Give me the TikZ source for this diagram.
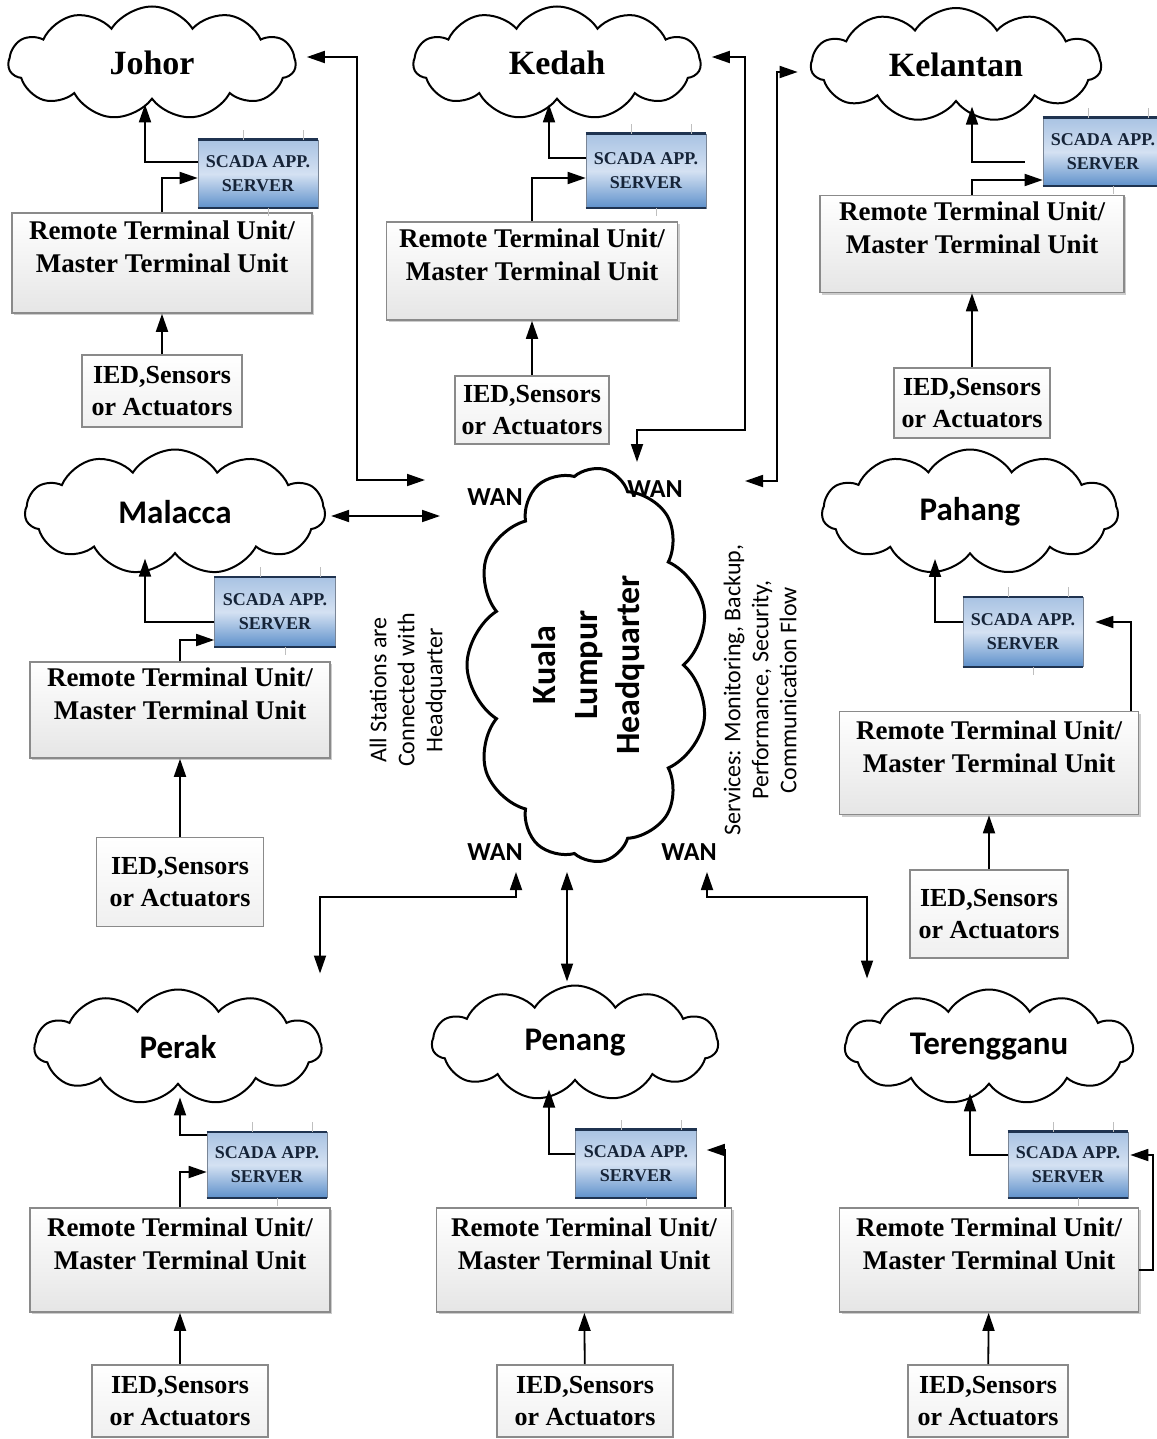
\documentclass[tikz,border=0pt]{standalone}
\usepackage{fontspec}
\setmainfont{Liberation Serif}
\setsansfont{Carlito}
\usetikzlibrary{shapes.symbols,arrows.meta,shadows}

\definecolor{srvtop}{HTML}{A9C3E3}
\definecolor{srvmid}{HTML}{D4E1F2}
\definecolor{srvbot}{HTML}{5F91CB}
\definecolor{srvband}{HTML}{1F3350}
\definecolor{boxline}{HTML}{8A8A8A}

\begin{document}
\begin{tikzpicture}[x=1pt,y=-1pt,
    station/.style={cloud, cloud puffs=11, cloud puff arc=115, cloud ignores aspect, draw=black, line width=2pt, minimum width=287pt, minimum height=113pt, inner sep=0pt},
    stationbf/.style={station, font=\bfseries\fontsize{34}{40}\selectfont},
    stationsf/.style={station, font=\sffamily\bfseries\fontsize{33}{40}\selectfont},
    server/.style={rectangle, draw=srvband!60, line width=0.6pt, top color=srvtop, bottom color=srvbot, middle color=srvmid, minimum width=120pt, minimum height=68pt, align=center, inner sep=0pt, text=srvband!70!black, font=\bfseries\fontsize{18}{24}\selectfont},
    rtu/.style={rectangle, draw=boxline, line width=1.6pt, top color=white, bottom color=black!10, minimum width=300pt, minimum height=100pt, inner sep=0pt, align=center, font=\bfseries\fontsize{27}{33}\selectfont, drop shadow={shadow xshift=2pt, shadow yshift=-2pt, fill=black, opacity=0.2}},
    ied/.style={rectangle, draw=boxline, line width=1.6pt, top color=white, bottom color=black!6, minimum width=160pt, minimum height=72pt, inner sep=0pt, align=center, font=\bfseries\fontsize{26}{32}\selectfont},
    wan/.style={font=\sffamily\bfseries\fontsize{26}{30}\selectfont},
    note/.style={rotate=90, align=center, font=\sffamily\fontsize{24}{28}\selectfont},
    arr/.style={-{Triangle[length=18pt,width=12pt]}, line width=1.8pt},
    biarr/.style={{Triangle[length=18pt,width=12pt]}-{Triangle[length=18pt,width=12pt]}, line width=1.8pt}]
    \useasboundingbox (0,0) rectangle (1156,1439);

    \node[stationbf] (johor) at (152,63) {Johor};
    \node[stationbf] (kedah) at (557,63) {Kedah};
    \node[stationbf, minimum width=290pt, minimum height=114pt] (kelantan) at (956,65) {Kelantan};
    \node[stationsf, minimum width=300pt, minimum height=125pt] (malacca) at (175,512) {Malacca};
    \node[stationsf, minimum width=296pt, minimum height=125pt] (pahang) at (970,512) {Pahang};
    \node[stationsf, minimum height=115pt] (perak) at (178,1047) {Perak};
    \node[stationsf, minimum width=286pt, minimum height=115pt] (penang) at (575,1043) {Penang};
    \node[stationsf, minimum width=288pt, minimum height=115pt] (terengganu) at (989,1047) {Terengganu};

    \node[station, rotate=90, minimum width=395pt, minimum height=242pt, line width=3pt, align=center, font=\sffamily\bfseries\fontsize{34}{42}\selectfont] (hq) at (588,665) {Kuala\\Lumpur\\Headquarter};

    \node[server] (s1) at (258,174) {SCADA APP.\\SERVER};
    \node[server, minimum height=74pt] (s2) at (646,171) {SCADA APP.\\SERVER};
    \node[server] (s3) at (1103,152) {SCADA APP.\\SERVER};
    \node[server, minimum width=121pt, minimum height=69pt] (s4) at (275,612) {SCADA APP.\\SERVER};
    \node[server, minimum height=69pt] (s5) at (1023,632) {SCADA APP.\\SERVER};
    \node[server, minimum height=65pt] (s6) at (267,1165) {SCADA APP.\\SERVER};
    \node[server, minimum width=121pt] (s7) at (636,1164) {SCADA APP.\\SERVER};
    \node[server, minimum height=66pt] (s8) at (1068,1165) {SCADA APP.\\SERVER};

    \node[rtu] (r1) at (162,263) {Remote Terminal Unit/\\Master Terminal Unit\\\mbox{}};
    \node[rtu, minimum width=291pt, minimum height=98pt] (r2) at (532,271) {Remote Terminal Unit/\\Master Terminal Unit\\\mbox{}};
    \node[rtu, minimum width=304pt, minimum height=97pt] (r3) at (972,244) {Remote Terminal Unit/\\Master Terminal Unit\\\mbox{}};
    \node[rtu, minimum height=96pt] (r4) at (180,710) {Remote Terminal Unit/\\Master Terminal Unit\\\mbox{}};
    \node[rtu, minimum width=299pt, minimum height=103pt] (r5) at (989,763) {Remote Terminal Unit/\\Master Terminal Unit\\\mbox{}};
    \node[rtu, minimum height=104pt] (r6) at (180,1260) {Remote Terminal Unit/\\Master Terminal Unit\\\mbox{}};
    \node[rtu, minimum width=295pt, minimum height=104pt] (r7) at (584,1260) {Remote Terminal Unit/\\Master Terminal Unit\\\mbox{}};
    \node[rtu, minimum width=299pt, minimum height=104pt] (r8) at (989,1260) {Remote Terminal Unit/\\Master Terminal Unit\\\mbox{}};

    \node[ied] (i1) at (162,391) {IED,Sensors\\or Actuators};
    \node[ied, minimum width=154pt, minimum height=68pt] (i2) at (532,410) {IED,Sensors\\or Actuators};
    \node[ied, minimum width=156pt, minimum height=70pt] (i3) at (972,403) {IED,Sensors\\or Actuators};
    \node[ied, minimum width=167pt, minimum height=89pt] (i4) at (180,882) {IED,Sensors\\or Actuators};
    \node[ied, minimum width=158pt, minimum height=88pt] (i5) at (989,914) {IED,Sensors\\or Actuators};
    \node[ied, minimum width=176pt] (i6) at (180,1401) {IED,Sensors\\or Actuators};
    \node[ied, minimum width=176pt] (i7) at (585,1401) {IED,Sensors\\or Actuators};
    \node[ied] (i8) at (988,1401) {IED,Sensors\\or Actuators};

    \foreach \k in {1,...,8} {
        \draw[line width=2.5pt, srvband] (s\k.north west) -- (s\k.north east);
        \draw[line width=2pt, srvband] (s\k.south west) -- (s\k.south east);
        \draw[black!25, line width=0.8pt] ([xshift=-15pt]s\k.north) -- ++(0,-10);
        \draw[black!25, line width=0.8pt] ([xshift=45pt]s\k.north) -- ++(0,-10);
        \draw[black!25, line width=0.8pt] ([xshift=10pt]s\k.south) -- ++(0,8);
    }

    \node[wan] (w1) at (495,497) {WAN};
    \node[wan] (w2) at (655,489) {WAN};
    \node[wan] (w3) at (495,852) {WAN};
    \node[wan] (w4) at (689,852) {WAN};

    \node[note] (n1) at (408,690) {All Stations are\\Connected with\\Headquarter};
    \node[note] (n2) at (760,690) {Services: Monitoring, Backup,\\Performance, Security,\\Communication Flow};

    \coordinate (hqNW) at (425,480);
    \coordinate (hqW) at (440,516);
    \coordinate (hqN) at (637,462);
    \coordinate (hqNE) at (745,481);
    \coordinate (hqSW) at (516,872);
    \coordinate (hqS) at (567,872);
    \coordinate (hqSE) at (707,872);

    % inside each station
    \draw[arr] (i1) -- (r1);
    \draw[arr] (r1.north) |- ([yshift=-4pt]s1.west);
    \draw[arr] ([yshift=12pt]s1.west) -| ([xshift=-7pt,yshift=-4pt]johor.south);
    \draw[arr] (i2) -- (r2);
    \draw[arr] (r2.north) |- ([yshift=-7pt]s2.west);
    \draw[arr] ([yshift=13pt]s2.west) -| ([xshift=-8pt,yshift=-4pt]kedah.south);
    \draw[arr] (i3) -- (r3);
    \draw[arr] (r3.north) |- ([yshift=-28pt]s3.west);
    \draw[arr] ([xshift=-18pt,yshift=-10pt]s3.west) -| ([xshift=16pt,yshift=-4pt]kelantan.south);
    \draw[arr] (i4) -- (r4);
    \draw[arr] (r4.north) |- ([yshift=-28pt]s4.west);
    \draw[arr] ([yshift=-10pt]s4.west) -| ([xshift=-30pt,yshift=-4pt]malacca.south);
    \draw[arr] (i5) -- (r5);
    \draw[arr] ([xshift=142pt]r5.north) |- ([xshift=12pt,yshift=10pt]s5.east);
    \draw[arr] ([yshift=10pt]s5.west) -| ([xshift=-35pt,yshift=-4pt]pahang.south);
    \draw[arr] (i6) -- (r6);
    \draw[arr] (r6.north) |- ([yshift=-7pt]s6.west);
    \draw[arr] ([yshift=30pt]s6.west) -| ([xshift=2pt,yshift=-12pt]perak.south);
    \draw[arr] (i7) -- (r7);
    \draw[arr] ([xshift=141pt]r7.north) |- ([xshift=10pt,yshift=14pt]s7.east);
    \draw[arr] ([yshift=10pt]s7.west) -| ([xshift=-26pt,yshift=-8pt]penang.south);
    \draw[arr] (i8) -- (r8);
    \draw[arr] ([yshift=-10pt]r8.east) -- ++(14,0) |- ([xshift=2pt,yshift=10pt]s8.east);
    \draw[arr] ([yshift=10pt]s8.west) -| ([xshift=-19pt,yshift=-8pt]terengganu.south);

    % WAN links to headquarter
    \draw[biarr] ([xshift=10pt,yshift=6pt]johor.east) -- ++(50,0) |- (hqNW);
    \draw[biarr] ([xshift=5pt,yshift=-4pt]malacca.east) -- (hqW);
    \draw[biarr] ([xshift=10pt,yshift=6pt]kedah.east) -| (745,430) -| (hqN);
    \draw[biarr] ([xshift=-12pt,yshift=-7pt]kelantan.west) -- ++(-21,0) |- (hqNE);
    \draw[biarr] (hqSW) -- ++(0,25) -| ([xshift=142pt,yshift=15pt]perak.north);
    \draw[biarr] (hqS) -- ([xshift=-8pt,yshift=3pt]penang.north);
    \draw[biarr] (hqSE) -- ++(0,25) -| ([xshift=-122pt,yshift=10pt]terengganu.north);
\end{tikzpicture}
\end{document}
